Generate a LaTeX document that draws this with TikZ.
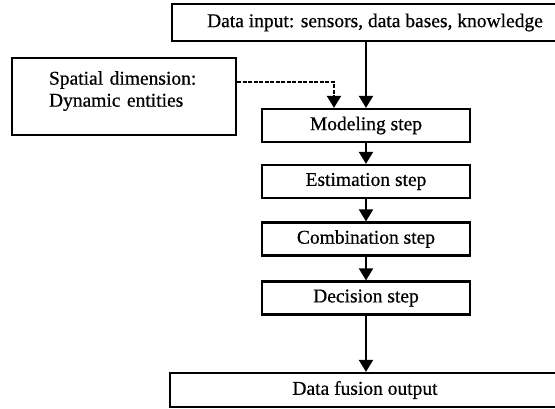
\documentclass[tikz,border=0pt]{standalone}
\usepackage{fontspec}
\setmainfont[FakeBold=0.6]{Liberation Serif}
\usetikzlibrary{arrows.meta}
\begin{document}
\begin{tikzpicture}[x=1pt,y=-1pt,
  box/.style={draw, line width=2.2pt, inner sep=0pt, font=\fontsize{19.5}{22}\selectfont},
  stepbox/.style={box, minimum width=208pt, minimum height=33pt},
  txt/.style={inner sep=0pt, font=\fontsize{19.5}{22}\selectfont},
  arr/.style={line width=2pt, -{Triangle[width=14pt,length=12pt]}},
  dsh/.style={line width=2pt, dash pattern=on 4pt off 1.5pt, -{Triangle[width=14pt,length=12pt]}}]
\useasboundingbox (0,0) rectangle (555,408);
\clip (0,0) rectangle (555,408);
\fill[white] (0,0) rectangle (555,408);
\node[box, minimum width=406pt, minimum height=37pt] (in) at (375,22.5) {Data input: sensors, data bases, knowledge};
\node[box, minimum width=224pt, minimum height=77pt] (sp) at (124,96.5) {};
\node[txt, text width=150pt, align=left] (sptext) at (124,91) {Spatial dimension:\\Dynamic entities};
\node[stepbox] (mod) at (366,125.5) {Modeling step};
\node[stepbox] (est) at (366,181.5) {Estimation step};
\node[stepbox] (com) at (366,239) {Combination step};
\node[stepbox] (dec) at (366,298) {Decision step};
\node[box, minimum width=390pt, minimum height=34pt] (out) at (365,390) {Data fusion output};
\coordinate (dk) at (334,82);
\draw[arr] (mod.north |- in.south) -- (mod.north);
\draw[dsh] (sp.east |- dk) -- (dk) -- (dk |- mod.north);
\draw[arr] (mod) -- (est);
\draw[arr] (est) -- (com);
\draw[arr] (com) -- (dec);
\draw[arr] (dec.south) -- (dec.south |- out.north);
\end{tikzpicture}
\end{document}
